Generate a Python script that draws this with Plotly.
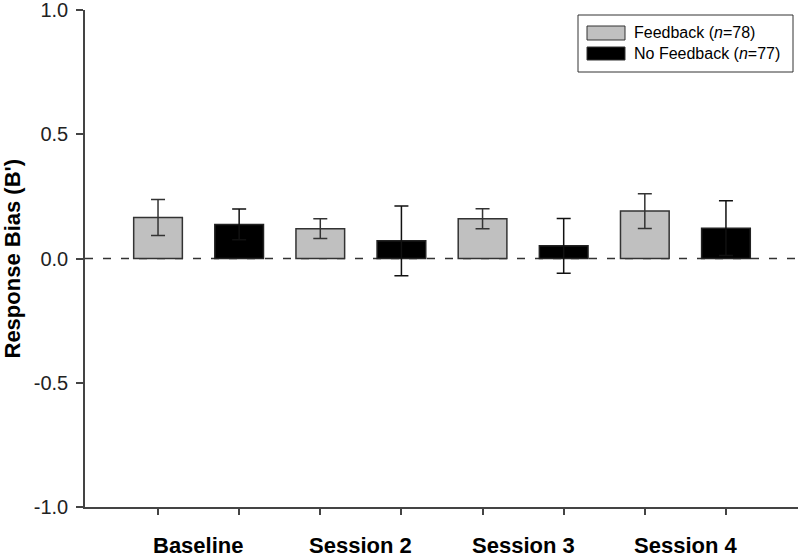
import plotly.graph_objects as go

# ---- data ----
sessions = ["Baseline", "Session 2", "Session 3", "Session 4"]
feedback_mean = [0.165, 0.120, 0.160, 0.191]
feedback_err = [0.072, 0.040, 0.040, 0.070]
nofeedback_mean = [0.137, 0.071, 0.051, 0.122]
nofeedback_err = [0.062, 0.140, 0.110, 0.110]
feedback_label = "Feedback (<i>n</i>=78)"
nofeedback_label = "No Feedback (<i>n</i>=77)"
y_ticks = [-1.0, -0.5, 0.0, 0.5, 1.0]

# ---- geometry ----
W, H = 800, 558
L, R, T, B = 85, 2, 10, 51
PW, PH = W - L - R, H - T - B

def px_x(px):
    return (px - L) / PW

def px_y(py):
    return (H - B - py) / PH

FONT = "Liberation Sans, Arial, sans-serif"
AX = "#444444"

fb_x = [2 * i for i in range(len(sessions))]
nf_x = [2 * i + 1 for i in range(len(sessions))]

fig = go.Figure()
fig.add_trace(go.Bar(
    x=fb_x, y=feedback_mean, width=0.6, name=feedback_label,
    marker=dict(color="#c0c0c0", line=dict(color="#333333", width=1.5)),
    error_y=dict(type="data", array=feedback_err, visible=True,
                 color="#333333", thickness=1.5, width=7),
    showlegend=False,
))
fig.add_trace(go.Bar(
    x=nf_x, y=nofeedback_mean, width=0.6, name=nofeedback_label,
    marker=dict(color="#000000", line=dict(color="#222222", width=1.5)),
    error_y=dict(type="data", array=nofeedback_err, visible=True,
                 color="#111111", thickness=1.5, width=7),
    showlegend=False,
))

shapes = [
    # dashed zero line
    dict(type="line", xref="paper", yref="y", x0=0, x1=1, y0=0, y1=0,
         line=dict(color="#333333", width=1.5, dash="8px,10px"), layer="below"),
    # legend box
    dict(type="rect", xref="paper", yref="paper",
         x0=px_x(578), x1=px_x(793), y0=px_y(72), y1=px_y(15),
         line=dict(color="#333333", width=1), fillcolor="white"),
    dict(type="rect", xref="paper", yref="paper",
         x0=px_x(587), x1=px_x(625), y0=px_y(40), y1=px_y(26),
         line=dict(color="#333333", width=1), fillcolor="#c0c0c0"),
    dict(type="rect", xref="paper", yref="paper",
         x0=px_x(587), x1=px_x(625), y0=px_y(60), y1=px_y(47),
         line=dict(color="#333333", width=1), fillcolor="#000000"),
]

annotations = []
for i, s in enumerate(sessions):
    annotations.append(dict(
        x=2 * i + 0.5, xref="x", y=0, yref="paper", yshift=-38,
        text=f"<b>{s}</b>", showarrow=False, xanchor="center", yanchor="middle",
        font=dict(family=FONT, size=22, color="#000000"),
    ))
annotations.append(dict(
    x=px_x(12), xref="paper", y=0.5, yref="paper", textangle=-90,
    text="<b>Response Bias (B')</b>", showarrow=False,
    xanchor="center", yanchor="middle",
    font=dict(family=FONT, size=22, color="#000000"),
))
for lbl, cy in [(feedback_label, 33), (nofeedback_label, 53)]:
    annotations.append(dict(
        x=px_x(632), xref="paper", y=px_y(cy), yref="paper",
        text=lbl, showarrow=False, xanchor="left", yanchor="middle",
        font=dict(family=FONT, size=16, color="#000000"),
    ))

fig.update_layout(
    width=W, height=H,
    margin=dict(l=L, r=R, t=T, b=B, autoexpand=False),
    plot_bgcolor="white", paper_bgcolor="white",
    barmode="overlay",
    showlegend=False,
    shapes=shapes,
    annotations=annotations,
    font=dict(family=FONT),
    xaxis=dict(
        range=[-0.9, 7.888], tickmode="array", tickvals=fb_x + nf_x,
        showticklabels=False, ticks="outside", ticklen=6, tickwidth=1.5,
        tickcolor=AX, showline=True, linecolor=AX, linewidth=1.5,
        showgrid=False, zeroline=False, fixedrange=True,
    ),
    yaxis=dict(
        range=[-1.0, 1.0], tickmode="array", tickvals=y_ticks,
        ticktext=[f"{v:.1f}" for v in y_ticks],
        ticks="outside", ticklen=7, tickwidth=1.5, tickcolor=AX,
        showline=True, linecolor=AX, linewidth=1.5,
        showgrid=False, zeroline=False,
        tickfont=dict(family=FONT, size=20, color="#222222"),
        ticklabelstandoff=4, ticklabeloverflow="allow",
    ),
)

fig.write_html(
    "out.html",
    config={"displayModeBar": False},
    post_script="document.body.style.margin='0';document.body.style.overflow='hidden';",
)
